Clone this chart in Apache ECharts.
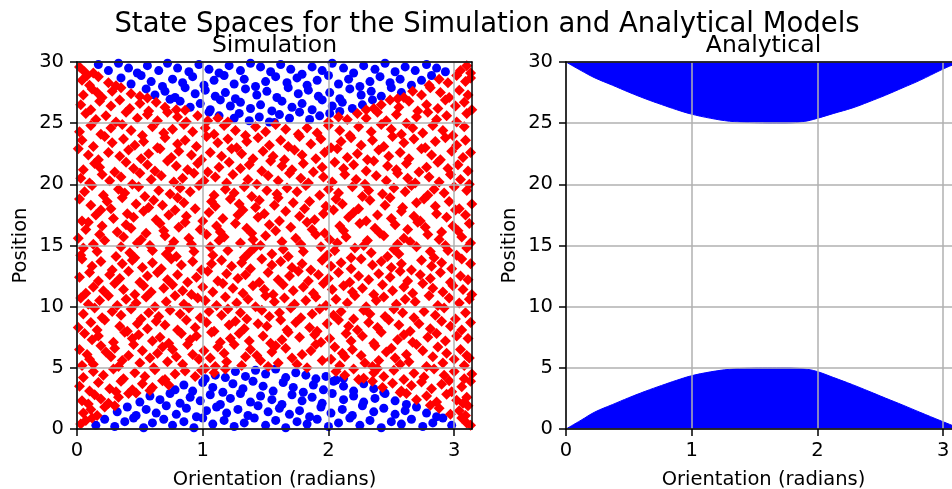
<!DOCTYPE html>
<html>
<head>
<meta charset="utf-8">
<title>State Spaces for the Simulation and Analytical Models</title>
<script src="https://cdn.jsdelivr.net/npm/echarts@6/dist/echarts.min.js"></script>
<style>
  html, body { margin: 0; padding: 0; background: #fff; }
  #main { width: 952px; height: 489px; }
</style>
</head>
<body>
<div id="main"></div>
<script>
const xTicks = [0, 1, 2, 3];
const yTicks = [0, 5, 10, 15, 20, 25, 30];
const thetaMax = 3.14159;
const posMax = 30;

// simulation: states outside the analytical region (red)
const simRed = [
  [0.03,0.4],[0.12,0.9],[0.07,0.7],[3.1,0.5],[3.06,0.9],[3.13,0.3],
  [0.05,1.3],[0.16,1.1],[0.22,1.8],[0.11,1.6],[0.3,1.9],[2.88,1.7],[2.97,1.2],[3.04,1.5],[3.11,1.9],[2.81,1.95],[3.09,1.1],
  [0.04,2.3],[0.14,2.8],[0.25,2.1],[0.33,2.6],[0.41,2.9],[0.19,2.45],[0.47,2.95],[0.09,2.05],[2.62,2.9],[2.7,2.4],[2.78,2.7],[2.86,2.2],[2.94,2.85],[3.02,2.35],[3.1,2.6],[2.57,2.98],[3.07,2.1],
  [0.02,3.5],[0.1,3.1],[0.17,3.8],[0.26,3.3],[0.35,3.9],[0.44,3.2],[0.52,3.7],[0.6,3.4],[0.68,3.95],[0.73,3.6],[0.31,3.05],[0.58,3.15],[2.35,3.9],[2.43,3.4],[2.51,3.75],[2.58,3.1],[2.66,3.55],[2.74,3.85],[2.82,3.3],[2.9,3.65],[2.98,3.05],[3.06,3.45],[3.13,3.9],[2.96,3.95],
  [0.05,4.2],[0.13,4.7],[0.21,4.4],[0.29,4.9],[0.37,4.1],[0.46,4.6],[0.54,4.3],[0.62,4.85],[0.7,4.05],[0.78,4.5],[0.86,4.75],[0.94,4.3],[1.02,4.95],[1.09,4.6],[0.99,4.8],[1.18,4.9],[2.06,4.7],[2.13,4.4],[2.2,4.9],[2.28,4.15],[2.36,4.6],[2.44,4.3],[2.52,4.8],[2.6,4.05],[2.68,4.55],[2.76,4.25],[2.84,4.9],[2.92,4.4],[3.0,4.7],[3.08,4.1],[3.14,4.5],[2.39,4.95],[2.24,4.05],
  [0.04,5.2],[0.1,5.7],[0.13,5.3],[0.27,5.9],[0.33,5.1],[0.36,5.6],[0.5,5.4],[0.58,5.8],[0.61,5.0],[0.72,5.5],[0.79,5.9],[0.84,5.3],[0.97,5.7],[1.06,5.8],[1.1,5.1],[1.19,5.5],[1.31,5.2],[1.34,5.9],[1.46,5.6],[1.52,5.1],[1.6,5.4],[1.71,5.8],[1.75,5.3],[1.83,5.0],[1.95,5.6],[2.02,5.7],[2.09,5.2],[2.13,5.9],[2.29,5.4],[2.35,5.1],[2.4,5.6],[2.53,5.8],[2.57,5.3],[2.64,5.5],[2.78,5.1],[2.83,5.9],[2.91,5.4],[3.0,5.7],[3.08,5.2],[3.12,5.8],
  [0.02,6.5],[0.08,6.1],[0.19,6.8],[0.23,6.3],[0.3,6.6],[0.41,6.0],[0.45,6.9],[0.52,6.4],[0.64,6.2],[0.68,6.7],[0.76,6.5],[0.88,6.9],[0.92,6.1],[1.01,6.4],[1.12,6.7],[1.17,6.2],[1.25,6.9],[1.38,6.5],[1.43,6.0],[1.55,6.3],[1.58,6.8],[1.66,6.6],[1.79,6.1],[1.86,6.4],[1.9,6.9],[2.05,6.7],[2.11,6.2],[2.19,6.5],[2.26,6.0],[2.37,6.8],[2.46,6.3],[2.5,6.6],[2.62,6.1],[2.7,6.9],[2.75,6.4],[2.87,6.7],[2.94,6.2],[3.05,6.5],[3.1,6.0],
  [0.06,7.8],[0.12,7.3],[0.17,7.6],[0.29,7.1],[0.38,7.9],[0.44,7.4],[0.49,7.7],[0.6,7.2],[0.66,7.5],[0.73,7.0],[0.83,7.8],[0.9,7.3],[0.95,7.6],[1.07,7.9],[1.14,7.1],[1.22,7.4],[1.29,7.8],[1.37,7.2],[1.48,7.6],[1.54,7.0],[1.63,7.3],[1.68,7.9],[1.77,7.5],[1.89,7.7],[1.94,7.1],[2.01,7.4],[2.14,7.8],[2.18,7.2],[2.27,7.6],[2.36,7.0],[2.42,7.9],[2.55,7.3],[2.6,7.7],[2.67,7.1],[2.79,7.5],[2.86,7.8],[2.93,7.2],[3.02,7.6],[3.11,7.4],
  [0.01,8.3],[0.11,8.7],[0.16,8.1],[0.22,8.9],[0.34,8.4],[0.4,8.0],[0.48,8.6],[0.56,8.2],[0.63,8.8],[0.7,8.5],[0.8,8.1],[0.87,8.9],[0.94,8.3],[1.03,8.7],[1.09,8.0],[1.21,8.5],[1.26,8.8],[1.33,8.2],[1.44,8.6],[1.51,8.4],[1.62,8.9],[1.67,8.1],[1.74,8.7],[1.85,8.3],[1.91,8.0],[1.99,8.6],[2.08,8.9],[2.16,8.4],[2.23,8.1],[2.32,8.7],[2.39,8.3],[2.48,8.9],[2.56,8.5],[2.65,8.0],[2.72,8.6],[2.81,8.2],[2.9,8.8],[2.97,8.4],[3.06,8.1],[3.13,8.7],
  [0.05,9.4],[0.14,9.9],[0.2,9.1],[0.28,9.6],[0.35,9.3],[0.43,9.8],[0.51,9.0],[0.57,9.5],[0.65,9.2],[0.74,9.7],[0.82,9.4],[0.89,9.9],[0.98,9.1],[1.05,9.6],[1.15,9.3],[1.2,9.8],[1.3,9.5],[1.35,9.0],[1.47,9.7],[1.53,9.2],[1.61,9.5],[1.7,9.9],[1.78,9.1],[1.87,9.4],[1.93,9.8],[2.04,9.3],[2.1,9.6],[2.2,9.0],[2.28,9.7],[2.33,9.4],[2.45,9.2],[2.52,9.8],[2.59,9.5],[2.68,9.1],[2.76,9.6],[2.85,9.3],[2.92,9.9],[3.01,9.0],[3.09,9.5],
  [0.03,10.7],[0.09,10.2],[0.18,10.5],[0.25,10.9],[0.32,10.1],[0.39,10.6],[0.47,10.3],[0.55,10.8],[0.62,10.0],[0.71,10.4],[0.78,10.9],[0.85,10.2],[0.96,10.7],[1.02,10.5],[1.11,10.1],[1.18,10.8],[1.27,10.3],[1.36,10.6],[1.42,10.0],[1.5,10.9],[1.57,10.4],[1.65,10.7],[1.73,10.2],[1.82,10.5],[1.9,10.8],[1.98,10.1],[2.06,10.6],[2.15,10.3],[2.21,10.9],[2.3,10.0],[2.38,10.5],[2.44,10.8],[2.54,10.2],[2.61,10.6],[2.69,10.4],[2.8,10.9],[2.87,10.1],[2.96,10.7],[3.04,10.3],[3.12,10.6],
  [0.07,11.1],[0.13,11.6],[0.21,11.3],[0.3,11.9],[0.37,11.4],[0.46,11.0],[0.53,11.7],[0.59,11.2],[0.69,11.5],[0.76,11.8],[0.84,11.3],[0.91,11.0],[1.0,11.6],[1.08,11.2],[1.16,11.9],[1.24,11.5],[1.32,11.1],[1.4,11.7],[1.49,11.4],[1.56,11.0],[1.64,11.8],[1.72,11.3],[1.8,11.6],[1.88,11.1],[1.96,11.9],[2.03,11.4],[2.12,11.7],[2.19,11.2],[2.27,11.5],[2.36,11.0],[2.43,11.8],[2.51,11.3],[2.6,11.6],[2.67,11.1],[2.75,11.9],[2.83,11.5],[2.91,11.2],[2.99,11.7],[3.07,11.4],[3.14,11.0],
  [0.02,12.4],[0.1,12.8],[0.17,12.1],[0.26,12.6],[0.34,12.3],[0.41,12.9],[0.5,12.0],[0.56,12.5],[0.64,12.8],[0.72,12.2],[0.8,12.6],[0.88,12.0],[0.95,12.4],[1.04,12.9],[1.12,12.1],[1.19,12.7],[1.28,12.3],[1.34,12.6],[1.45,12.0],[1.52,12.8],[1.6,12.2],[1.69,12.5],[1.76,12.9],[1.84,12.1],[1.92,12.6],[2.0,12.3],[2.08,12.8],[2.17,12.0],[2.24,12.5],[2.32,12.2],[2.4,12.7],[2.49,12.4],[2.57,12.9],[2.63,12.1],[2.73,12.6],[2.81,12.3],[2.89,12.8],[2.97,12.0],[3.05,12.5],[3.11,12.2],
  [0.04,13.9],[0.12,13.3],[0.19,13.7],[0.28,13.0],[0.36,13.5],[0.44,13.8],[0.52,13.2],[0.6,13.6],[0.67,13.1],[0.75,13.9],[0.83,13.4],[0.92,13.7],[0.99,13.0],[1.07,13.5],[1.15,13.8],[1.23,13.3],[1.31,13.6],[1.38,13.1],[1.47,13.9],[1.55,13.4],[1.62,13.7],[1.71,13.2],[1.79,13.5],[1.86,13.0],[1.95,13.8],[2.02,13.3],[2.1,13.6],[2.18,13.1],[2.26,13.9],[2.35,13.4],[2.42,13.7],[2.5,13.2],[2.58,13.5],[2.66,13.0],[2.74,13.8],[2.82,13.3],[2.9,13.6],[2.98,13.1],[3.06,13.9],[3.13,13.5],
  [0.03,14.2],[0.05,14.8],[0.16,14.5],[0.31,14.1],[0.35,14.9],[0.42,14.4],[0.46,14.0],[0.6,14.6],[0.71,14.3],[0.74,14.8],[0.79,14.1],[0.93,14.5],[1.06,14.9],[1.08,14.2],[1.2,14.6],[1.33,14.0],[1.37,14.4],[1.41,14.8],[1.55,14.3],[1.64,14.7],[1.68,14.1],[1.8,14.5],[1.94,14.9],[1.99,14.2],[2.05,14.6],[2.18,14.0],[2.21,14.8],[2.34,14.4],[2.47,14.1],[2.52,14.7],[2.56,14.3],[2.7,14.9],[2.81,14.5],[2.84,14.0],[2.95,14.6],[3.02,14.2],[3.1,14.8],
  [0.01,15.6],[0.13,15.1],[0.18,15.9],[0.22,15.4],[0.37,15.7],[0.48,15.2],[0.51,15.5],[0.58,15.0],[0.7,15.8],[0.77,15.3],[0.89,15.6],[0.91,15.1],[1.03,15.9],[1.13,15.4],[1.17,15.7],[1.3,15.2],[1.4,15.5],[1.46,15.0],[1.5,15.8],[1.63,15.3],[1.74,15.6],[1.78,15.1],[1.9,15.9],[2.01,15.5],[2.07,15.2],[2.14,15.7],[2.28,15.0],[2.31,15.4],[2.44,15.8],[2.55,15.1],[2.6,15.6],[2.65,15.3],[2.79,15.9],[2.88,15.5],[2.93,15.0],[3.06,15.7],[3.13,15.2],
  [0.07,16.3],[0.09,16.9],[0.2,16.6],[0.32,16.1],[0.39,16.7],[0.43,16.4],[0.55,16.0],[0.66,16.8],[0.69,16.2],[0.81,16.5],[0.86,16.9],[0.98,16.3],[1.11,16.6],[1.14,16.1],[1.26,16.8],[1.35,16.4],[1.39,16.0],[1.53,16.7],[1.58,16.2],[1.7,16.5],[1.83,16.9],[1.87,16.3],[1.97,16.0],[2.09,16.6],[2.12,16.2],[2.25,16.8],[2.37,16.4],[2.41,16.0],[2.53,16.7],[2.63,16.3],[2.71,16.9],[2.77,16.5],[2.9,16.1],[2.99,16.6],[3.03,16.2],[3.12,16.8],
  [0.04,17.0],[0.15,17.5],[0.19,17.9],[0.29,17.2],[0.4,17.6],[0.45,17.3],[0.53,17.8],[0.63,17.1],[0.73,17.5],[0.78,17.9],[0.87,17.4],[1.0,17.0],[1.05,17.7],[1.16,17.2],[1.28,17.5],[1.32,17.9],[1.44,17.3],[1.49,17.6],[1.61,17.0],[1.66,17.8],[1.77,17.4],[1.89,17.1],[1.96,17.6],[2.04,17.9],[2.16,17.3],[2.2,17.7],[2.3,17.0],[2.39,17.5],[2.5,17.2],[2.58,17.8],[2.68,17.4],[2.73,17.0],[2.86,17.6],[2.94,17.3],[3.01,17.9],[3.09,17.5],
  [0.02,18.8],[0.11,18.3],[0.24,18.6],[0.27,18.0],[0.36,18.9],[0.47,18.4],[0.57,18.1],[0.61,18.7],[0.68,18.3],[0.8,18.9],[0.85,18.5],[0.94,18.0],[1.07,18.6],[1.1,18.2],[1.22,18.8],[1.29,18.4],[1.42,18.1],[1.45,18.7],[1.57,18.3],[1.6,18.9],[1.72,18.5],[1.81,18.0],[1.85,18.6],[1.98,18.2],[2.06,18.8],[2.11,18.4],[2.24,18.0],[2.33,18.7],[2.45,18.3],[2.49,18.9],[2.59,18.1],[2.7,18.5],[2.76,18.8],[2.85,18.2],[2.96,18.6],[3.04,18.0],[3.14,18.4],
  [0.06,19.4],[0.12,19.9],[0.21,19.1],[0.33,19.6],[0.38,19.3],[0.49,19.8],[0.54,19.0],[0.65,19.5],[0.74,19.2],[0.82,19.7],[0.9,19.4],[0.97,19.9],[1.09,19.1],[1.18,19.6],[1.25,19.3],[1.33,19.8],[1.39,19.0],[1.51,19.5],[1.59,19.2],[1.67,19.7],[1.75,19.4],[1.82,19.9],[1.93,19.1],[2.0,19.6],[2.08,19.3],[2.19,19.8],[2.27,19.0],[2.32,19.5],[2.43,19.2],[2.52,19.7],[2.61,19.4],[2.66,19.9],[2.79,19.1],[2.84,19.6],[2.92,19.3],[3.0,19.8],[3.1,19.5],
  [0.03,20.5],[0.1,20.1],[0.2,20.8],[0.26,20.3],[0.35,20.6],[0.44,20.0],[0.5,20.9],[0.59,20.4],[0.67,20.7],[0.77,20.2],[0.84,20.5],[0.93,20.9],[1.01,20.3],[1.1,20.6],[1.19,20.1],[1.24,20.8],[1.36,20.4],[1.43,20.0],[1.52,20.7],[1.6,20.3],[1.69,20.9],[1.78,20.5],[1.84,20.1],[1.96,20.6],[2.03,20.2],[2.13,20.8],[2.22,20.4],[2.29,20.0],[2.38,20.7],[2.46,20.3],[2.55,20.9],[2.63,20.5],[2.69,20.1],[2.8,20.6],[2.88,20.2],[2.97,20.8],[3.05,20.4],[3.12,20.0],
  [0.05,21.2],[0.14,21.7],[0.18,21.4],[0.3,21.0],[0.39,21.8],[0.45,21.3],[0.56,21.6],[0.62,21.1],[0.72,21.9],[0.79,21.5],[0.88,21.2],[0.96,21.7],[1.04,21.0],[1.13,21.4],[1.21,21.8],[1.3,21.3],[1.37,21.6],[1.47,21.1],[1.54,21.9],[1.63,21.5],[1.71,21.2],[1.8,21.7],[1.88,21.0],[1.95,21.4],[2.05,21.8],[2.12,21.3],[2.2,21.6],[2.3,21.1],[2.36,21.9],[2.47,21.5],[2.54,21.2],[2.62,21.7],[2.72,21.0],[2.78,21.4],[2.87,21.8],[2.95,21.3],[3.03,21.6],[3.11,21.1],
  [0.01,22.9],[0.09,22.4],[0.17,22.0],[0.25,22.6],[0.34,22.3],[0.41,22.8],[0.51,22.1],[0.57,22.5],[0.66,22.9],[0.75,22.2],[0.81,22.7],[0.91,22.4],[0.99,22.0],[1.06,22.6],[1.15,22.3],[1.23,22.9],[1.31,22.5],[1.4,22.1],[1.48,22.7],[1.56,22.3],[1.65,22.0],[1.73,22.8],[1.79,22.4],[1.9,22.1],[1.97,22.6],[2.07,22.9],[2.15,22.2],[2.23,22.5],[2.31,22.0],[2.4,22.8],[2.48,22.3],[2.57,22.6],[2.64,22.1],[2.74,22.9],[2.82,22.4],[2.89,22.0],[2.98,22.7],[3.07,22.2],[3.13,22.6],
  [0.04,23.6],[0.13,23.1],[0.22,23.9],[0.28,23.4],[0.37,23.7],[0.46,23.2],[0.53,23.5],[0.64,23.0],[0.7,23.8],[0.8,23.3],[0.86,23.6],[0.95,23.1],[1.03,23.9],[1.12,23.4],[1.2,23.7],[1.27,23.0],[1.35,23.5],[1.44,23.8],[1.53,23.2],[1.62,23.6],[1.68,23.1],[1.77,23.9],[1.86,23.3],[1.94,23.7],[2.02,23.0],[2.1,23.5],[2.18,23.8],[2.26,23.2],[2.35,23.6],[2.44,23.1],[2.51,23.9],[2.6,23.4],[2.68,23.7],[2.77,23.0],[2.85,23.5],[2.93,23.8],[3.02,23.2],[3.09,23.6],
  [0.02,24.3],[0.11,24.8],[0.19,24.1],[0.27,24.6],[0.36,24.9],[0.43,24.4],[0.52,24.0],[0.6,24.7],[0.69,24.2],[0.76,24.5],[0.85,24.9],[0.92,24.3],[1.02,24.6],[1.09,24.1],[1.17,24.8],[1.26,24.4],[1.34,24.0],[1.42,24.7],[1.5,24.3],[1.58,24.9],[1.66,24.5],[1.76,24.1],[1.83,24.6],[1.91,24.2],[2.0,24.8],[2.09,24.4],[2.17,24.0],[2.24,24.7],[2.34,24.3],[2.42,24.9],[2.5,24.5],[2.58,24.1],[2.67,24.6],[2.75,24.2],[2.83,24.8],[2.91,24.4],[2.99,24.0],[3.08,24.7],
  [0.07,25.8],[0.15,25.3],[0.23,25.6],[0.31,25.1],[0.39,25.9],[0.48,25.4],[0.56,25.7],[0.64,25.2],[0.72,25.9],[0.8,25.5],[0.87,25.1],[0.96,25.6],[1.04,25.2],[1.12,25.4],[1.2,25.1],[2.0,25.1],[2.08,25.5],[2.15,25.3],[2.23,25.8],[2.3,25.4],[2.39,25.9],[2.46,25.2],[2.54,25.7],[2.62,25.0],[2.7,25.5],[2.79,25.9],[2.86,25.3],[2.94,25.6],[3.02,25.1],[3.1,25.8],
  [0.03,26.5],[0.11,26.1],[0.18,26.8],[0.27,26.4],[0.34,26.9],[0.42,26.2],[0.5,26.6],[0.57,26.0],[0.63,26.7],[0.7,26.3],[0.79,26.1],[0.86,26.05],[2.3,26.1],[2.42,26.5],[2.49,26.9],[2.56,26.3],[2.64,26.8],[2.71,26.0],[2.78,26.5],[2.87,26.2],[2.93,26.9],[3.01,26.4],[3.08,26.7],[3.14,26.1],[2.36,26.2],
  [0.05,27.3],[0.12,27.8],[0.2,27.1],[0.28,27.6],[0.35,27.9],[0.43,27.4],[0.5,27.2],[0.56,27.05],[0.16,27.5],[2.6,27.1],[2.67,27.6],[2.74,27.3],[2.81,27.9],[2.89,27.5],[2.96,27.1],[3.04,27.7],[3.11,27.3],[2.55,27.0],
  [0.04,28.5],[0.1,28.1],[0.17,28.8],[0.25,28.3],[0.31,28.05],[0.08,28.9],[2.8,28.1],[2.88,28.6],[2.95,28.3],[3.02,28.9],[3.09,28.4],[3.13,28.7],
  [0.02,29.6],[0.06,29.2],[0.13,29.1],[3.05,29.3],[3.1,29.7],[3.13,29.1],
];

// simulation: states inside the analytical region (blue)
const simBlue = [
  [0.15,0.3],[0.22,0.8],[0.3,0.2],[0.38,0.6],[0.45,0.9],[0.53,0.1],[0.6,0.5],[0.69,0.8],[0.76,0.3],[0.85,0.6],[0.93,0.1],[1.0,0.9],[1.08,0.4],[1.17,0.7],[1.25,0.2],[1.33,0.5],[1.41,0.9],[1.5,0.3],[1.58,0.7],[1.66,0.1],[1.75,0.6],[1.83,0.4],[1.91,0.8],[2.0,0.2],[2.08,0.5],[2.17,0.9],[2.25,0.3],[2.33,0.7],[2.42,0.1],[2.5,0.6],[2.58,0.4],[2.66,0.8],[2.75,0.2],[2.83,0.5],[2.91,0.9],[2.98,0.3],
  [0.32,1.4],[0.4,1.8],[0.47,1.1],[0.55,1.6],[0.63,1.3],[0.71,1.9],[0.79,1.2],[0.87,1.7],[0.95,1.0],[1.03,1.5],[1.11,1.8],[1.19,1.3],[1.28,1.6],[1.36,1.1],[1.44,1.9],[1.52,1.4],[1.61,1.7],[1.69,1.2],[1.77,1.5],[1.85,1.0],[1.94,1.8],[2.02,1.3],[2.11,1.6],[2.19,1.1],[2.27,1.9],[2.36,1.4],[2.44,1.7],[2.53,1.2],[2.61,1.5],[2.7,1.8],[2.78,1.3],[2.86,1.0],
  [0.5,2.2],[0.58,2.7],[0.66,2.4],[0.74,2.9],[0.82,2.1],[0.9,2.6],[0.98,2.3],[1.06,2.8],[1.14,2.0],[1.22,2.5],[1.3,2.9],[1.38,2.2],[1.46,2.7],[1.55,2.4],[1.63,2.0],[1.71,2.8],[1.79,2.3],[1.87,2.6],[1.95,2.1],[2.03,2.9],[2.12,2.4],[2.2,2.7],[2.28,2.2],[2.37,2.5],[2.45,2.9],[2.53,2.3],[2.62,2.0],
  [0.78,3.2],[0.85,3.6],[0.92,3.1],[1.0,3.8],[1.08,3.4],[1.16,3.0],[1.24,3.7],[1.32,3.3],[1.4,3.9],[1.48,3.5],[1.56,3.1],[1.64,3.8],[1.72,3.4],[1.8,3.0],[1.88,3.6],[1.96,3.2],[2.04,3.9],[2.12,3.5],[2.2,3.1],[2.28,3.7],[2.36,3.3],[2.44,3.0],
  [1.02,4.1],[1.1,4.4],[1.18,4.2],[1.26,4.7],[1.34,4.3],[1.42,4.8],[1.5,4.5],[1.58,4.9],[1.66,4.2],[1.74,4.6],[1.82,4.4],[1.9,4.1],[1.98,4.3],[2.06,4.0],[2.12,4.15],
  [1.05,25.9],[1.13,25.6],[1.25,25.4],[1.29,25.8],[1.37,25.2],[1.45,25.5],[1.53,25.1],[1.57,25.05],[1.61,25.7],[1.69,25.4],[1.77,25.9],[1.85,25.3],[1.93,25.6],[2.01,25.8],[2.09,25.95],
  [0.74,26.95],[0.82,26.8],[0.9,26.3],[0.98,26.6],[1.06,26.1],[1.14,26.9],[1.22,26.4],[1.3,26.7],[1.38,26.2],[1.46,26.5],[1.55,26.0],[1.63,26.8],[1.71,26.3],[1.79,26.6],[1.87,26.1],[1.95,26.9],[2.03,26.4],[2.11,26.7],[2.19,26.2],[2.27,26.5],[2.35,26.9],
  [0.55,27.8],[0.62,27.3],[0.7,27.6],[0.78,27.1],[0.86,27.9],[0.94,27.4],[1.02,27.7],[1.1,27.2],[1.18,27.5],[1.26,27.0],[1.34,27.8],[1.43,27.3],[1.51,27.6],[1.59,27.1],[1.68,27.9],[1.76,27.4],[1.84,27.7],[1.92,27.2],[2.01,27.5],[2.09,27.0],[2.17,27.8],[2.26,27.3],[2.34,27.6],[2.42,27.2],[2.5,27.9],[2.58,27.5],
  [0.35,28.7],[0.43,28.2],[0.51,28.9],[0.59,28.4],[0.68,28.0],[0.76,28.6],[0.84,28.3],[0.92,28.8],[1.01,28.1],[1.09,28.5],[1.17,28.9],[1.25,28.2],[1.33,28.6],[1.42,28.0],[1.5,28.4],[1.58,28.8],[1.67,28.3],[1.75,28.7],[1.83,28.1],[1.91,28.5],[2.0,28.9],[2.08,28.2],[2.16,28.6],[2.25,28.0],[2.33,28.4],[2.41,28.8],[2.49,28.3],[2.57,28.6],[2.66,28.1],[2.74,28.5],[2.82,28.9],
  [0.17,29.8],[0.25,29.3],[0.33,29.9],[0.41,29.5],[0.48,29.1],[0.56,29.7],[0.65,29.3],[0.72,29.9],[0.8,29.5],[0.89,29.2],[0.97,29.8],[1.05,29.4],[1.13,29.1],[1.21,29.7],[1.3,29.3],[1.38,29.9],[1.46,29.6],[1.54,29.2],[1.62,29.8],[1.7,29.4],[1.79,29.0],[1.87,29.6],[1.95,29.3],[2.03,29.9],[2.12,29.5],[2.2,29.1],[2.28,29.7],[2.37,29.4],[2.45,29.9],[2.53,29.2],[2.61,29.6],[2.69,29.3],[2.78,29.8],[2.86,29.5],[2.93,29.2],
];

// analytical boundary curves
const anaTheta = [0, 0.12, 0.23, 0.37, 0.5, 0.63, 0.76, 0.88, 0.99, 1.15, 1.3, 1.46, 1.6, 1.75, 1.9, 1.99, 2.13, 2.28, 2.41, 2.54, 2.68, 2.81, 2.99, 3.07, 3.14];
const anaLower = [0, 0.72, 1.39, 2.0, 2.56, 3.08, 3.56, 3.98, 4.33, 4.67, 4.88, 4.98, 5.0, 5.0, 4.9, 4.72, 4.2, 3.62, 3.08, 2.53, 1.95, 1.39, 0.63, 0.3, 0];
const anaUpper = [30, 29.3, 28.7, 28.1, 27.53, 27.0, 26.52, 26.1, 25.76, 25.4, 25.16, 25.05, 25.0, 25.0, 25.15, 25.37, 25.8, 26.25, 26.75, 27.28, 27.9, 28.48, 29.38, 29.74, 30];

const font = "DejaVu Sans";
const blue = "#0000ff";
const red = "#ff0000";
const gridGray = "#b0b0b0";
const spine = { show: true, onZero: false, lineStyle: { color: "#000", width: 1.5 } };

const chart = echarts.init(document.getElementById("main"));

const plots = [
  { left: 77, title: "Simulation" },
  { left: 566, title: "Analytical" },
];
const plotTop = 62;
const plotWidth = 395;
const plotHeight = 367;

const xAxes = [];
const yAxes = [];
plots.forEach((p, i) => {
  xAxes.push({
    type: "value", gridIndex: i, position: "bottom", min: 0, max: thetaMax, interval: 1, z: 5,
    name: "Orientation (radians)", nameLocation: "middle", nameGap: 41,
    nameTextStyle: { fontFamily: font, fontSize: 19.5, color: "#000" },
    axisLine: spine,
    axisTick: { show: true, length: 7, customValues: xTicks, lineStyle: { color: "#000", width: 1.5 } },
    axisLabel: {
      show: true, margin: 12, customValues: xTicks, fontFamily: font, fontSize: 19.5, color: "#000",
      formatter: (v) => (xTicks.includes(v) ? String(v) : ""),
    },
    splitLine: { show: true, lineStyle: { color: gridGray, width: 1.5 } },
  });
  xAxes.push({
    type: "value", gridIndex: i, position: "top", min: 0, max: thetaMax, z: 6,
    axisLine: spine, axisTick: { show: false }, axisLabel: { show: false }, splitLine: { show: false },
  });
  yAxes.push({
    type: "value", gridIndex: i, position: "left", min: 0, max: posMax, interval: 5, z: 5,
    name: "Position", nameLocation: "middle", nameGap: 46,
    nameTextStyle: { fontFamily: font, fontSize: 19.5, color: "#000" },
    axisLine: spine,
    axisTick: { show: true, length: 7, lineStyle: { color: "#000", width: 1.5 } },
    axisLabel: {
      show: true, margin: 13, fontFamily: font, fontSize: 19.5, color: "#000",
      formatter: (v) => (yTicks.includes(v) ? String(v) : ""),
    },
    splitLine: { show: true, lineStyle: { color: gridGray, width: 1.5 } },
  });
  yAxes.push({
    type: "value", gridIndex: i, position: "right", min: 0, max: posMax, z: 6,
    axisLine: spine, axisTick: { show: false }, axisLabel: { show: false }, splitLine: { show: false },
  });
});

const lowerData = anaTheta.map((t, i) => [t, anaLower[i]]);
const upperData = anaTheta.map((t, i) => [t, anaUpper[i]]);

chart.setOption({
  animation: false,
  backgroundColor: "#fff",
  grid: plots.map((p) => ({
    left: p.left, top: plotTop, width: plotWidth, height: plotHeight,
    containLabel: false, outerBoundsMode: "none",
  })),
  xAxis: xAxes,
  yAxis: yAxes,
  graphic: [
    {
      type: "text", x: 487, y: 25, silent: true,
      style: { text: "State Spaces for the Simulation and Analytical Models", fontFamily: font, fontSize: 27.5, fill: "#000", align: "center", verticalAlign: "middle" },
    },
    ...plots.map((p) => ({
      type: "text", x: p.left + plotWidth / 2, y: 45.5, silent: true,
      style: { text: p.title, fontFamily: font, fontSize: 23.5, fill: "#000", align: "center", verticalAlign: "middle" },
    })),
  ],
  series: [
    {
      type: "scatter", xAxisIndex: 0, yAxisIndex: 0, data: simBlue,
      symbol: "circle", symbolSize: 9, itemStyle: { color: blue, opacity: 1 }, silent: true,
    },
    {
      type: "scatter", xAxisIndex: 0, yAxisIndex: 0, data: simRed,
      symbol: "diamond", symbolSize: 11, itemStyle: { color: red, opacity: 1 }, silent: true,
    },
    {
      type: "line", xAxisIndex: 2, yAxisIndex: 2, data: lowerData, showSymbol: false, smooth: 0.4,
      lineStyle: { color: blue, width: 1 }, areaStyle: { color: blue, opacity: 1, origin: "start" }, silent: true,
    },
    {
      type: "line", xAxisIndex: 2, yAxisIndex: 2, data: upperData, showSymbol: false, smooth: 0.4,
      lineStyle: { color: blue, width: 1 }, areaStyle: { color: blue, opacity: 1, origin: "end" }, silent: true,
    },
  ],
});
</script>
</body>
</html>
